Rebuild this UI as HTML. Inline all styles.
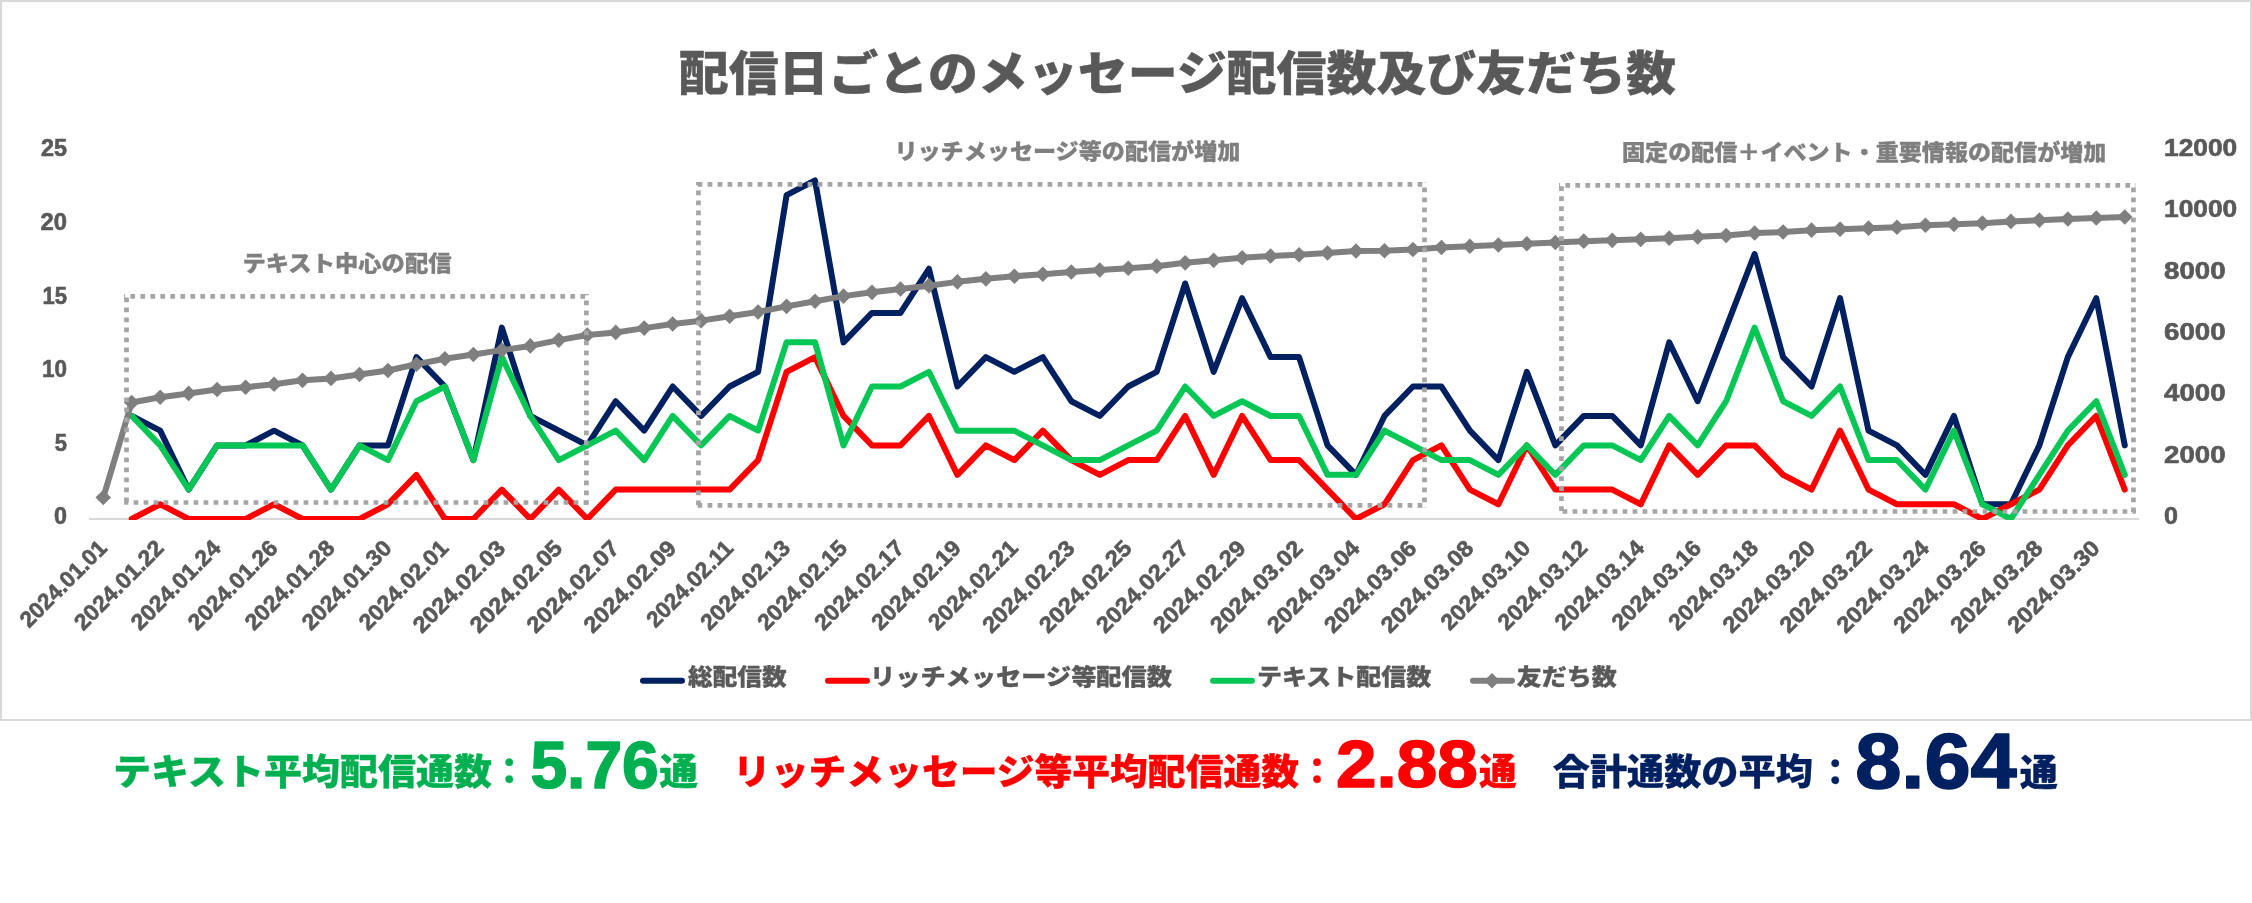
<!DOCTYPE html>
<html lang="ja"><head><meta charset="utf-8"><title>配信日ごとのメッセージ配信数及び友だち数</title>
<style>
html,body{margin:0;padding:0;background:#fff;}
svg{display:block;will-change:transform;}
.jp{font-family:"Liberation Sans","Noto Sans CJK JP",sans-serif;font-weight:900;}
.num{font-family:"Liberation Sans","Noto Sans CJK JP",sans-serif;font-weight:700;}
.lbl{stroke:#595959;stroke-width:0.6px;}
</style></head><body>
<svg width="2252" height="903" viewBox="0 0 2252 903">
<rect x="1" y="1" width="2250" height="719" fill="#fff" stroke="#d9d9d9" stroke-width="2"/>
<line x1="89.0" y1="519.0" x2="2139.0" y2="519.0" stroke="#d9d9d9" stroke-width="2"/>
<text x="67" y="524.0" text-anchor="end" class="num lbl" font-size="23" textLength="13" lengthAdjust="spacingAndGlyphs" fill="#595959">0</text>
<text x="67" y="451.2" text-anchor="end" class="num lbl" font-size="23" textLength="12.2" lengthAdjust="spacingAndGlyphs" fill="#595959">5</text>
<text x="67" y="376.8" text-anchor="end" class="num lbl" font-size="23" textLength="25" lengthAdjust="spacingAndGlyphs" fill="#595959">10</text>
<text x="67" y="304.0" text-anchor="end" class="num lbl" font-size="23" textLength="24.5" lengthAdjust="spacingAndGlyphs" fill="#595959">15</text>
<text x="67" y="229.6" text-anchor="end" class="num lbl" font-size="23" textLength="26.5" lengthAdjust="spacingAndGlyphs" fill="#595959">20</text>
<text x="67" y="156.0" text-anchor="end" class="num lbl" font-size="23" textLength="26" lengthAdjust="spacingAndGlyphs" fill="#595959">25</text>
<text x="2164" y="524.0" class="num lbl" font-size="23" textLength="14" lengthAdjust="spacingAndGlyphs" fill="#595959">0</text>
<text x="2164" y="462.7" class="num lbl" font-size="23" textLength="61.6" lengthAdjust="spacingAndGlyphs" fill="#595959">2000</text>
<text x="2164" y="401.3" class="num lbl" font-size="23" textLength="61.6" lengthAdjust="spacingAndGlyphs" fill="#595959">4000</text>
<text x="2164" y="340.0" class="num lbl" font-size="23" textLength="61.6" lengthAdjust="spacingAndGlyphs" fill="#595959">6000</text>
<text x="2164" y="278.7" class="num lbl" font-size="23" textLength="61.6" lengthAdjust="spacingAndGlyphs" fill="#595959">8000</text>
<text x="2164" y="217.3" class="num lbl" font-size="23" textLength="73.2" lengthAdjust="spacingAndGlyphs" fill="#595959">10000</text>
<text x="2164" y="156.0" class="num lbl" font-size="23" textLength="73.2" lengthAdjust="spacingAndGlyphs" fill="#595959">12000</text>
<text transform="translate(108.2,549.5) rotate(-45)" text-anchor="end" class="num lbl" font-size="22.5" textLength="112" lengthAdjust="spacingAndGlyphs" fill="#595959">2024.01.01</text>
<text transform="translate(165.2,549.5) rotate(-45)" text-anchor="end" class="num lbl" font-size="22.5" textLength="116" lengthAdjust="spacingAndGlyphs" fill="#595959">2024.01.22</text>
<text transform="translate(222.1,549.5) rotate(-45)" text-anchor="end" class="num lbl" font-size="22.5" textLength="116" lengthAdjust="spacingAndGlyphs" fill="#595959">2024.01.24</text>
<text transform="translate(279.1,549.5) rotate(-45)" text-anchor="end" class="num lbl" font-size="22.5" textLength="116" lengthAdjust="spacingAndGlyphs" fill="#595959">2024.01.26</text>
<text transform="translate(336.0,549.5) rotate(-45)" text-anchor="end" class="num lbl" font-size="22.5" textLength="116" lengthAdjust="spacingAndGlyphs" fill="#595959">2024.01.28</text>
<text transform="translate(393.0,549.5) rotate(-45)" text-anchor="end" class="num lbl" font-size="22.5" textLength="116" lengthAdjust="spacingAndGlyphs" fill="#595959">2024.01.30</text>
<text transform="translate(449.9,549.5) rotate(-45)" text-anchor="end" class="num lbl" font-size="22.5" textLength="116" lengthAdjust="spacingAndGlyphs" fill="#595959">2024.02.01</text>
<text transform="translate(506.8,549.5) rotate(-45)" text-anchor="end" class="num lbl" font-size="22.5" textLength="120" lengthAdjust="spacingAndGlyphs" fill="#595959">2024.02.03</text>
<text transform="translate(563.8,549.5) rotate(-45)" text-anchor="end" class="num lbl" font-size="22.5" textLength="120" lengthAdjust="spacingAndGlyphs" fill="#595959">2024.02.05</text>
<text transform="translate(620.7,549.5) rotate(-45)" text-anchor="end" class="num lbl" font-size="22.5" textLength="120" lengthAdjust="spacingAndGlyphs" fill="#595959">2024.02.07</text>
<text transform="translate(677.7,549.5) rotate(-45)" text-anchor="end" class="num lbl" font-size="22.5" textLength="120" lengthAdjust="spacingAndGlyphs" fill="#595959">2024.02.09</text>
<text transform="translate(734.6,549.5) rotate(-45)" text-anchor="end" class="num lbl" font-size="22.5" textLength="112" lengthAdjust="spacingAndGlyphs" fill="#595959">2024.02.11</text>
<text transform="translate(791.6,549.5) rotate(-45)" text-anchor="end" class="num lbl" font-size="22.5" textLength="116" lengthAdjust="spacingAndGlyphs" fill="#595959">2024.02.13</text>
<text transform="translate(848.5,549.5) rotate(-45)" text-anchor="end" class="num lbl" font-size="22.5" textLength="116" lengthAdjust="spacingAndGlyphs" fill="#595959">2024.02.15</text>
<text transform="translate(905.5,549.5) rotate(-45)" text-anchor="end" class="num lbl" font-size="22.5" textLength="116" lengthAdjust="spacingAndGlyphs" fill="#595959">2024.02.17</text>
<text transform="translate(962.4,549.5) rotate(-45)" text-anchor="end" class="num lbl" font-size="22.5" textLength="116" lengthAdjust="spacingAndGlyphs" fill="#595959">2024.02.19</text>
<text transform="translate(1019.3,549.5) rotate(-45)" text-anchor="end" class="num lbl" font-size="22.5" textLength="116" lengthAdjust="spacingAndGlyphs" fill="#595959">2024.02.21</text>
<text transform="translate(1076.3,549.5) rotate(-45)" text-anchor="end" class="num lbl" font-size="22.5" textLength="120" lengthAdjust="spacingAndGlyphs" fill="#595959">2024.02.23</text>
<text transform="translate(1133.2,549.5) rotate(-45)" text-anchor="end" class="num lbl" font-size="22.5" textLength="120" lengthAdjust="spacingAndGlyphs" fill="#595959">2024.02.25</text>
<text transform="translate(1190.2,549.5) rotate(-45)" text-anchor="end" class="num lbl" font-size="22.5" textLength="120" lengthAdjust="spacingAndGlyphs" fill="#595959">2024.02.27</text>
<text transform="translate(1247.1,549.5) rotate(-45)" text-anchor="end" class="num lbl" font-size="22.5" textLength="120" lengthAdjust="spacingAndGlyphs" fill="#595959">2024.02.29</text>
<text transform="translate(1304.1,549.5) rotate(-45)" text-anchor="end" class="num lbl" font-size="22.5" textLength="120" lengthAdjust="spacingAndGlyphs" fill="#595959">2024.03.02</text>
<text transform="translate(1361.0,549.5) rotate(-45)" text-anchor="end" class="num lbl" font-size="22.5" textLength="120" lengthAdjust="spacingAndGlyphs" fill="#595959">2024.03.04</text>
<text transform="translate(1418.0,549.5) rotate(-45)" text-anchor="end" class="num lbl" font-size="22.5" textLength="120" lengthAdjust="spacingAndGlyphs" fill="#595959">2024.03.06</text>
<text transform="translate(1474.9,549.5) rotate(-45)" text-anchor="end" class="num lbl" font-size="22.5" textLength="120" lengthAdjust="spacingAndGlyphs" fill="#595959">2024.03.08</text>
<text transform="translate(1531.8,549.5) rotate(-45)" text-anchor="end" class="num lbl" font-size="22.5" textLength="116" lengthAdjust="spacingAndGlyphs" fill="#595959">2024.03.10</text>
<text transform="translate(1588.8,549.5) rotate(-45)" text-anchor="end" class="num lbl" font-size="22.5" textLength="116" lengthAdjust="spacingAndGlyphs" fill="#595959">2024.03.12</text>
<text transform="translate(1645.7,549.5) rotate(-45)" text-anchor="end" class="num lbl" font-size="22.5" textLength="116" lengthAdjust="spacingAndGlyphs" fill="#595959">2024.03.14</text>
<text transform="translate(1702.7,549.5) rotate(-45)" text-anchor="end" class="num lbl" font-size="22.5" textLength="116" lengthAdjust="spacingAndGlyphs" fill="#595959">2024.03.16</text>
<text transform="translate(1759.6,549.5) rotate(-45)" text-anchor="end" class="num lbl" font-size="22.5" textLength="116" lengthAdjust="spacingAndGlyphs" fill="#595959">2024.03.18</text>
<text transform="translate(1816.6,549.5) rotate(-45)" text-anchor="end" class="num lbl" font-size="22.5" textLength="120" lengthAdjust="spacingAndGlyphs" fill="#595959">2024.03.20</text>
<text transform="translate(1873.5,549.5) rotate(-45)" text-anchor="end" class="num lbl" font-size="22.5" textLength="120" lengthAdjust="spacingAndGlyphs" fill="#595959">2024.03.22</text>
<text transform="translate(1930.5,549.5) rotate(-45)" text-anchor="end" class="num lbl" font-size="22.5" textLength="120" lengthAdjust="spacingAndGlyphs" fill="#595959">2024.03.24</text>
<text transform="translate(1987.4,549.5) rotate(-45)" text-anchor="end" class="num lbl" font-size="22.5" textLength="120" lengthAdjust="spacingAndGlyphs" fill="#595959">2024.03.26</text>
<text transform="translate(2044.3,549.5) rotate(-45)" text-anchor="end" class="num lbl" font-size="22.5" textLength="120" lengthAdjust="spacingAndGlyphs" fill="#595959">2024.03.28</text>
<text transform="translate(2101.3,549.5) rotate(-45)" text-anchor="end" class="num lbl" font-size="22.5" textLength="120" lengthAdjust="spacingAndGlyphs" fill="#595959">2024.03.30</text>
<defs><clipPath id="pa"><rect x="80" y="0" width="2070" height="520"/></clipPath></defs><g clip-path="url(#pa)">
<polyline points="131.71,415.96 160.18,430.68 188.65,489.56 217.12,445.40 245.60,445.40 274.07,430.68 302.54,445.40 331.01,489.56 359.49,445.40 387.96,445.40 416.43,357.08 444.90,386.52 473.38,460.12 501.85,327.64 530.32,415.96 558.79,430.68 587.26,445.40 615.74,401.24 644.21,430.68 672.68,386.52 701.15,415.96 729.62,386.52 758.10,371.80 786.57,195.16 815.04,180.44 843.51,342.36 871.99,312.92 900.46,312.92 928.93,268.76 957.40,386.52 985.88,357.08 1014.35,371.80 1042.82,357.08 1071.29,401.24 1099.76,415.96 1128.24,386.52 1156.71,371.80 1185.18,283.48 1213.65,371.80 1242.12,298.20 1270.60,357.08 1299.07,357.08 1327.54,445.40 1356.01,474.84 1384.49,415.96 1412.96,386.52 1441.43,386.52 1469.90,430.68 1498.38,460.12 1526.85,371.80 1555.32,445.40 1583.79,415.96 1612.26,415.96 1640.74,445.40 1669.21,342.36 1697.68,401.24 1726.15,327.64 1754.62,254.04 1783.10,357.08 1811.57,386.52 1840.04,298.20 1868.51,430.68 1896.99,445.40 1925.46,474.84 1953.93,415.96 1982.40,504.28 2010.88,504.28 2039.35,445.40 2067.82,357.08 2096.29,298.20 2124.76,445.40" fill="none" stroke="#002060" stroke-width="6.0" stroke-linejoin="round" stroke-linecap="round"/>
<polyline points="131.71,519.00 160.18,504.28 188.65,519.00 217.12,519.00 245.60,519.00 274.07,504.28 302.54,519.00 331.01,519.00 359.49,519.00 387.96,504.28 416.43,474.84 444.90,519.00 473.38,519.00 501.85,489.56 530.32,519.00 558.79,489.56 587.26,519.00 615.74,489.56 644.21,489.56 672.68,489.56 701.15,489.56 729.62,489.56 758.10,460.12 786.57,371.80 815.04,357.08 843.51,415.96 871.99,445.40 900.46,445.40 928.93,415.96 957.40,474.84 985.88,445.40 1014.35,460.12 1042.82,430.68 1071.29,460.12 1099.76,474.84 1128.24,460.12 1156.71,460.12 1185.18,415.96 1213.65,474.84 1242.12,415.96 1270.60,460.12 1299.07,460.12 1327.54,489.56 1356.01,519.00 1384.49,504.28 1412.96,460.12 1441.43,445.40 1469.90,489.56 1498.38,504.28 1526.85,445.40 1555.32,489.56 1583.79,489.56 1612.26,489.56 1640.74,504.28 1669.21,445.40 1697.68,474.84 1726.15,445.40 1754.62,445.40 1783.10,474.84 1811.57,489.56 1840.04,430.68 1868.51,489.56 1896.99,504.28 1925.46,504.28 1953.93,504.28 1982.40,519.00 2010.88,504.28 2039.35,489.56 2067.82,445.40 2096.29,415.96 2124.76,489.56" fill="none" stroke="#ff0000" stroke-width="6.0" stroke-linejoin="round" stroke-linecap="round"/>
<polyline points="131.71,415.96 160.18,445.40 188.65,489.56 217.12,445.40 245.60,445.40 274.07,445.40 302.54,445.40 331.01,489.56 359.49,445.40 387.96,460.12 416.43,401.24 444.90,386.52 473.38,460.12 501.85,357.08 530.32,415.96 558.79,460.12 587.26,445.40 615.74,430.68 644.21,460.12 672.68,415.96 701.15,445.40 729.62,415.96 758.10,430.68 786.57,342.36 815.04,342.36 843.51,445.40 871.99,386.52 900.46,386.52 928.93,371.80 957.40,430.68 985.88,430.68 1014.35,430.68 1042.82,445.40 1071.29,460.12 1099.76,460.12 1128.24,445.40 1156.71,430.68 1185.18,386.52 1213.65,415.96 1242.12,401.24 1270.60,415.96 1299.07,415.96 1327.54,474.84 1356.01,474.84 1384.49,430.68 1412.96,445.40 1441.43,460.12 1469.90,460.12 1498.38,474.84 1526.85,445.40 1555.32,474.84 1583.79,445.40 1612.26,445.40 1640.74,460.12 1669.21,415.96 1697.68,445.40 1726.15,401.24 1754.62,327.64 1783.10,401.24 1811.57,415.96 1840.04,386.52 1868.51,460.12 1896.99,460.12 1925.46,489.56 1953.93,430.68 1982.40,504.28 2010.88,519.00 2039.35,474.84 2067.82,430.68 2096.29,401.24 2124.76,474.84" fill="none" stroke="#06c755" stroke-width="6.0" stroke-linejoin="round" stroke-linecap="round"/>
<polyline points="103.24,497.53 131.71,402.47 160.18,397.31 188.65,393.42 217.12,389.53 245.60,387.23 274.07,384.22 302.54,380.33 331.01,378.42 359.49,374.53 387.96,370.51 416.43,364.23 444.90,358.77 473.38,354.50 501.85,350.12 530.32,345.92 558.79,340.12 587.26,335.00 615.74,332.42 644.21,328.10 672.68,324.02 701.15,320.65 729.62,316.26 758.10,311.94 786.57,306.36 815.04,301.27 843.51,296.15 871.99,292.34 900.46,288.97 928.93,285.66 957.40,281.85 985.88,278.85 1014.35,276.24 1042.82,274.22 1071.29,272.07 1099.76,270.05 1128.24,268.24 1156.71,266.25 1185.18,262.84 1213.65,260.33 1242.12,257.81 1270.60,256.06 1299.07,254.75 1327.54,252.94 1356.01,250.94 1384.49,250.76 1412.96,249.56 1441.43,247.54 1469.90,246.25 1498.38,244.96 1526.85,243.74 1555.32,242.45 1583.79,241.16 1612.26,240.36 1640.74,239.35 1669.21,238.15 1697.68,236.87 1726.15,235.49 1754.62,233.06 1783.10,232.05 1811.57,230.15 1840.04,229.17 1868.51,228.16 1896.99,227.27 1925.46,225.21 1953.93,224.35 1982.40,223.16 2010.88,221.41 2039.35,220.15 2067.82,219.05 2096.29,218.07 2124.76,217.03" fill="none" stroke="#7f7f7f" stroke-width="6.0" stroke-linejoin="round" stroke-linecap="round"/>
<path d="M103.24 489.73L111.04 497.53L103.24 505.33L95.44 497.53Z" fill="#7f7f7f"/>
<path d="M131.71 394.67L139.51 402.47L131.71 410.27L123.91 402.47Z" fill="#7f7f7f"/>
<path d="M160.18 389.51L167.98 397.31L160.18 405.11L152.38 397.31Z" fill="#7f7f7f"/>
<path d="M188.65 385.62L196.45 393.42L188.65 401.22L180.85 393.42Z" fill="#7f7f7f"/>
<path d="M217.12 381.73L224.93 389.53L217.12 397.33L209.32 389.53Z" fill="#7f7f7f"/>
<path d="M245.60 379.43L253.40 387.23L245.60 395.03L237.80 387.23Z" fill="#7f7f7f"/>
<path d="M274.07 376.42L281.87 384.22L274.07 392.02L266.27 384.22Z" fill="#7f7f7f"/>
<path d="M302.54 372.53L310.34 380.33L302.54 388.13L294.74 380.33Z" fill="#7f7f7f"/>
<path d="M331.01 370.62L338.81 378.42L331.01 386.22L323.21 378.42Z" fill="#7f7f7f"/>
<path d="M359.49 366.73L367.29 374.53L359.49 382.33L351.69 374.53Z" fill="#7f7f7f"/>
<path d="M387.96 362.71L395.76 370.51L387.96 378.31L380.16 370.51Z" fill="#7f7f7f"/>
<path d="M416.43 356.43L424.23 364.23L416.43 372.03L408.63 364.23Z" fill="#7f7f7f"/>
<path d="M444.90 350.97L452.70 358.77L444.90 366.57L437.10 358.77Z" fill="#7f7f7f"/>
<path d="M473.38 346.70L481.18 354.50L473.38 362.30L465.57 354.50Z" fill="#7f7f7f"/>
<path d="M501.85 342.32L509.65 350.12L501.85 357.92L494.05 350.12Z" fill="#7f7f7f"/>
<path d="M530.32 338.12L538.12 345.92L530.32 353.72L522.52 345.92Z" fill="#7f7f7f"/>
<path d="M558.79 332.32L566.59 340.12L558.79 347.92L550.99 340.12Z" fill="#7f7f7f"/>
<path d="M587.26 327.20L595.06 335.00L587.26 342.80L579.46 335.00Z" fill="#7f7f7f"/>
<path d="M615.74 324.62L623.54 332.42L615.74 340.22L607.94 332.42Z" fill="#7f7f7f"/>
<path d="M644.21 320.30L652.01 328.10L644.21 335.90L636.41 328.10Z" fill="#7f7f7f"/>
<path d="M672.68 316.22L680.48 324.02L672.68 331.82L664.88 324.02Z" fill="#7f7f7f"/>
<path d="M701.15 312.85L708.95 320.65L701.15 328.45L693.35 320.65Z" fill="#7f7f7f"/>
<path d="M729.62 308.46L737.42 316.26L729.62 324.06L721.83 316.26Z" fill="#7f7f7f"/>
<path d="M758.10 304.14L765.90 311.94L758.10 319.74L750.30 311.94Z" fill="#7f7f7f"/>
<path d="M786.57 298.56L794.37 306.36L786.57 314.16L778.77 306.36Z" fill="#7f7f7f"/>
<path d="M815.04 293.47L822.84 301.27L815.04 309.07L807.24 301.27Z" fill="#7f7f7f"/>
<path d="M843.51 288.35L851.31 296.15L843.51 303.95L835.71 296.15Z" fill="#7f7f7f"/>
<path d="M871.99 284.54L879.79 292.34L871.99 300.14L864.19 292.34Z" fill="#7f7f7f"/>
<path d="M900.46 281.17L908.26 288.97L900.46 296.77L892.66 288.97Z" fill="#7f7f7f"/>
<path d="M928.93 277.86L936.73 285.66L928.93 293.46L921.13 285.66Z" fill="#7f7f7f"/>
<path d="M957.40 274.05L965.20 281.85L957.40 289.65L949.60 281.85Z" fill="#7f7f7f"/>
<path d="M985.88 271.05L993.67 278.85L985.88 286.65L978.08 278.85Z" fill="#7f7f7f"/>
<path d="M1014.35 268.44L1022.15 276.24L1014.35 284.04L1006.55 276.24Z" fill="#7f7f7f"/>
<path d="M1042.82 266.42L1050.62 274.22L1042.82 282.02L1035.02 274.22Z" fill="#7f7f7f"/>
<path d="M1071.29 264.27L1079.09 272.07L1071.29 279.87L1063.49 272.07Z" fill="#7f7f7f"/>
<path d="M1099.76 262.25L1107.56 270.05L1099.76 277.85L1091.96 270.05Z" fill="#7f7f7f"/>
<path d="M1128.24 260.44L1136.04 268.24L1128.24 276.04L1120.44 268.24Z" fill="#7f7f7f"/>
<path d="M1156.71 258.45L1164.51 266.25L1156.71 274.05L1148.91 266.25Z" fill="#7f7f7f"/>
<path d="M1185.18 255.04L1192.98 262.84L1185.18 270.64L1177.38 262.84Z" fill="#7f7f7f"/>
<path d="M1213.65 252.53L1221.45 260.33L1213.65 268.13L1205.85 260.33Z" fill="#7f7f7f"/>
<path d="M1242.12 250.01L1249.92 257.81L1242.12 265.61L1234.33 257.81Z" fill="#7f7f7f"/>
<path d="M1270.60 248.26L1278.40 256.06L1270.60 263.86L1262.80 256.06Z" fill="#7f7f7f"/>
<path d="M1299.07 246.95L1306.87 254.75L1299.07 262.55L1291.27 254.75Z" fill="#7f7f7f"/>
<path d="M1327.54 245.14L1335.34 252.94L1327.54 260.74L1319.74 252.94Z" fill="#7f7f7f"/>
<path d="M1356.01 243.14L1363.81 250.94L1356.01 258.74L1348.21 250.94Z" fill="#7f7f7f"/>
<path d="M1384.49 242.96L1392.29 250.76L1384.49 258.56L1376.69 250.76Z" fill="#7f7f7f"/>
<path d="M1412.96 241.76L1420.76 249.56L1412.96 257.36L1405.16 249.56Z" fill="#7f7f7f"/>
<path d="M1441.43 239.74L1449.23 247.54L1441.43 255.34L1433.63 247.54Z" fill="#7f7f7f"/>
<path d="M1469.90 238.45L1477.70 246.25L1469.90 254.05L1462.10 246.25Z" fill="#7f7f7f"/>
<path d="M1498.38 237.16L1506.17 244.96L1498.38 252.76L1490.58 244.96Z" fill="#7f7f7f"/>
<path d="M1526.85 235.94L1534.65 243.74L1526.85 251.54L1519.05 243.74Z" fill="#7f7f7f"/>
<path d="M1555.32 234.65L1563.12 242.45L1555.32 250.25L1547.52 242.45Z" fill="#7f7f7f"/>
<path d="M1583.79 233.36L1591.59 241.16L1583.79 248.96L1575.99 241.16Z" fill="#7f7f7f"/>
<path d="M1612.26 232.56L1620.06 240.36L1612.26 248.16L1604.46 240.36Z" fill="#7f7f7f"/>
<path d="M1640.74 231.55L1648.54 239.35L1640.74 247.15L1632.94 239.35Z" fill="#7f7f7f"/>
<path d="M1669.21 230.35L1677.01 238.15L1669.21 245.95L1661.41 238.15Z" fill="#7f7f7f"/>
<path d="M1697.68 229.07L1705.48 236.87L1697.68 244.67L1689.88 236.87Z" fill="#7f7f7f"/>
<path d="M1726.15 227.69L1733.95 235.49L1726.15 243.29L1718.35 235.49Z" fill="#7f7f7f"/>
<path d="M1754.62 225.26L1762.42 233.06L1754.62 240.86L1746.83 233.06Z" fill="#7f7f7f"/>
<path d="M1783.10 224.25L1790.90 232.05L1783.10 239.85L1775.30 232.05Z" fill="#7f7f7f"/>
<path d="M1811.57 222.35L1819.37 230.15L1811.57 237.95L1803.77 230.15Z" fill="#7f7f7f"/>
<path d="M1840.04 221.37L1847.84 229.17L1840.04 236.97L1832.24 229.17Z" fill="#7f7f7f"/>
<path d="M1868.51 220.36L1876.31 228.16L1868.51 235.96L1860.71 228.16Z" fill="#7f7f7f"/>
<path d="M1896.99 219.47L1904.79 227.27L1896.99 235.07L1889.19 227.27Z" fill="#7f7f7f"/>
<path d="M1925.46 217.41L1933.26 225.21L1925.46 233.01L1917.66 225.21Z" fill="#7f7f7f"/>
<path d="M1953.93 216.55L1961.73 224.35L1953.93 232.15L1946.13 224.35Z" fill="#7f7f7f"/>
<path d="M1982.40 215.36L1990.20 223.16L1982.40 230.96L1974.60 223.16Z" fill="#7f7f7f"/>
<path d="M2010.88 213.61L2018.67 221.41L2010.88 229.21L2003.08 221.41Z" fill="#7f7f7f"/>
<path d="M2039.35 212.35L2047.15 220.15L2039.35 227.95L2031.55 220.15Z" fill="#7f7f7f"/>
<path d="M2067.82 211.25L2075.62 219.05L2067.82 226.85L2060.02 219.05Z" fill="#7f7f7f"/>
<path d="M2096.29 210.27L2104.09 218.07L2096.29 225.87L2088.49 218.07Z" fill="#7f7f7f"/>
<path d="M2124.76 209.23L2132.56 217.03L2124.76 224.83L2116.96 217.03Z" fill="#7f7f7f"/>
</g>
<line x1="124.15" y1="296.4" x2="588.75" y2="296.4" stroke="#a5a5a5" stroke-width="4.7" stroke-dasharray="4.7 5.3" stroke-dashoffset="3.75"/>
<line x1="586.4" y1="294.05" x2="586.4" y2="504.85" stroke="#a5a5a5" stroke-width="4.7" stroke-dasharray="4.7 5.3" stroke-dashoffset="3.55"/>
<line x1="124.15" y1="502.5" x2="588.75" y2="502.5" stroke="#a5a5a5" stroke-width="4.7" stroke-dasharray="4.7 5.3" stroke-dashoffset="0.55"/>
<line x1="126.5" y1="294.05" x2="126.5" y2="504.85" stroke="#a5a5a5" stroke-width="4.7" stroke-dasharray="4.7 5.3" stroke-dashoffset="6.45"/>
<line x1="696.10" y1="184.35" x2="1426.85" y2="184.35" stroke="#a5a5a5" stroke-width="4.7" stroke-dasharray="4.7 5.3" stroke-dashoffset="8.50"/>
<line x1="1424.5" y1="182.00" x2="1424.5" y2="507.75" stroke="#a5a5a5" stroke-width="4.7" stroke-dasharray="4.7 5.3" stroke-dashoffset="4.50"/>
<line x1="696.10" y1="505.4" x2="1426.85" y2="505.4" stroke="#a5a5a5" stroke-width="4.7" stroke-dasharray="4.7 5.3" stroke-dashoffset="8.50"/>
<line x1="698.45" y1="182.00" x2="698.45" y2="507.75" stroke="#a5a5a5" stroke-width="4.7" stroke-dasharray="4.7 5.3" stroke-dashoffset="1.50"/>
<line x1="1559.10" y1="185.35" x2="2135.80" y2="185.35" stroke="#a5a5a5" stroke-width="4.7" stroke-dasharray="4.7 5.3" stroke-dashoffset="3.70"/>
<line x1="2133.45" y1="183.00" x2="2133.45" y2="513.85" stroke="#a5a5a5" stroke-width="4.7" stroke-dasharray="4.7 5.3" stroke-dashoffset="5.50"/>
<line x1="1559.10" y1="511.5" x2="2135.80" y2="511.5" stroke="#a5a5a5" stroke-width="4.7" stroke-dasharray="4.7 5.3" stroke-dashoffset="6.50"/>
<line x1="1561.45" y1="183.00" x2="1561.45" y2="513.85" stroke="#a5a5a5" stroke-width="4.7" stroke-dasharray="4.7 5.3" stroke-dashoffset="6.70"/>
<line x1="643" y1="680.8" x2="682" y2="680.8" stroke="#002060" stroke-width="6" stroke-linecap="round"/>
<line x1="828" y1="680.8" x2="867" y2="680.8" stroke="#ff0000" stroke-width="6" stroke-linecap="round"/>
<line x1="1213" y1="680.8" x2="1252" y2="680.8" stroke="#06c755" stroke-width="6" stroke-linecap="round"/>
<line x1="1473" y1="680.8" x2="1512" y2="680.8" stroke="#7f7f7f" stroke-width="6" stroke-linecap="round"/>
<path d="M1492 673.0L1499.8 680.8L1492 688.6L1484.2 680.8Z" fill="#7f7f7f"/>
<text x="678.80" y="90.40" class="jp" font-size="47" textLength="997.20" lengthAdjust="spacingAndGlyphs" stroke="#595959" stroke-width="0.4" stroke-linejoin="round" fill="#595959">配信日ごとのメッセージ配信数及び友だち数</text>
<text x="242.40" y="270.92" class="jp" font-size="22.0" textLength="209.20" lengthAdjust="spacingAndGlyphs" stroke="#7f7f7f" stroke-width="0.3" stroke-linejoin="round" fill="#7f7f7f">テキスト中心の配信</text>
<text x="894.40" y="159.42" class="jp" font-size="22.0" textLength="346.00" lengthAdjust="spacingAndGlyphs" stroke="#7f7f7f" stroke-width="0.3" stroke-linejoin="round" fill="#7f7f7f">リッチメッセージ等の配信が増加</text>
<text x="1622.00" y="159.67" class="jp" font-size="22.0" textLength="484.40" lengthAdjust="spacingAndGlyphs" stroke="#7f7f7f" stroke-width="0.3" stroke-linejoin="round" fill="#7f7f7f">固定の配信＋イベント・重要情報の配信が増加</text>
<text x="688.00" y="685.02" class="jp" font-size="22.6" textLength="98.60" lengthAdjust="spacingAndGlyphs" stroke="#595959" stroke-width="0.3" stroke-linejoin="round" fill="#595959">総配信数</text>
<text x="870.00" y="685.02" class="jp" font-size="22.6" textLength="302.00" lengthAdjust="spacingAndGlyphs" stroke="#595959" stroke-width="0.3" stroke-linejoin="round" fill="#595959">リッチメッセージ等配信数</text>
<text x="1257.00" y="685.02" class="jp" font-size="22.6" textLength="174.20" lengthAdjust="spacingAndGlyphs" stroke="#595959" stroke-width="0.3" stroke-linejoin="round" fill="#595959">テキスト配信数</text>
<text x="1516.80" y="685.02" class="jp" font-size="22.6" textLength="100.00" lengthAdjust="spacingAndGlyphs" stroke="#595959" stroke-width="0.3" stroke-linejoin="round" fill="#595959">友だち数</text>
<text x="113.00" y="785.25" class="jp" font-size="35.8" textLength="379.00" lengthAdjust="spacingAndGlyphs" stroke="#00b050" stroke-width="0.3" stroke-linejoin="round" fill="#00b050">テキスト平均配信通数</text>
<text x="491.60" y="784.45" class="jp" font-size="35.5" stroke="#00b050" stroke-width="0.3" stroke-linejoin="round" fill="#00b050">：</text>
<text x="530.40" y="787.82" class="num" font-size="67.3" textLength="128.40" lengthAdjust="spacingAndGlyphs" stroke="#00b050" stroke-width="1.6" stroke-linejoin="round" fill="#00b050">5.76</text>
<text x="659.20" y="785.30" class="jp" font-size="36.9" textLength="38.80" lengthAdjust="spacingAndGlyphs" stroke="#00b050" stroke-width="0.3" stroke-linejoin="round" fill="#00b050">通</text>
<text x="733.00" y="785.25" class="jp" font-size="35.8" textLength="566.00" lengthAdjust="spacingAndGlyphs" stroke="#ff0000" stroke-width="0.3" stroke-linejoin="round" fill="#ff0000">リッチメッセージ等平均配信通数</text>
<text x="1299.20" y="784.45" class="jp" font-size="35.5" stroke="#ff0000" stroke-width="0.3" stroke-linejoin="round" fill="#ff0000">：</text>
<text x="1336.00" y="787.27" class="num" font-size="67.3" textLength="141.60" lengthAdjust="spacingAndGlyphs" stroke="#ff0000" stroke-width="1.6" stroke-linejoin="round" fill="#ff0000">2.88</text>
<text x="1479.00" y="785.30" class="jp" font-size="36.9" textLength="37.80" lengthAdjust="spacingAndGlyphs" stroke="#ff0000" stroke-width="0.3" stroke-linejoin="round" fill="#ff0000">通</text>
<text x="1552.80" y="785.25" class="jp" font-size="35.8" textLength="260.00" lengthAdjust="spacingAndGlyphs" stroke="#002060" stroke-width="0.3" stroke-linejoin="round" fill="#002060">合計通数の平均</text>
<text x="1817.60" y="784.95" class="jp" font-size="35.5" stroke="#002060" stroke-width="0.3" stroke-linejoin="round" fill="#002060">：</text>
<text x="1855.20" y="787.66" class="num" font-size="77.4" textLength="161.60" lengthAdjust="spacingAndGlyphs" stroke="#002060" stroke-width="1.6" stroke-linejoin="round" fill="#002060">8.64</text>
<text x="2019.80" y="785.80" class="jp" font-size="36.9" textLength="38.20" lengthAdjust="spacingAndGlyphs" stroke="#002060" stroke-width="0.3" stroke-linejoin="round" fill="#002060">通</text>
</svg>
</body></html>
